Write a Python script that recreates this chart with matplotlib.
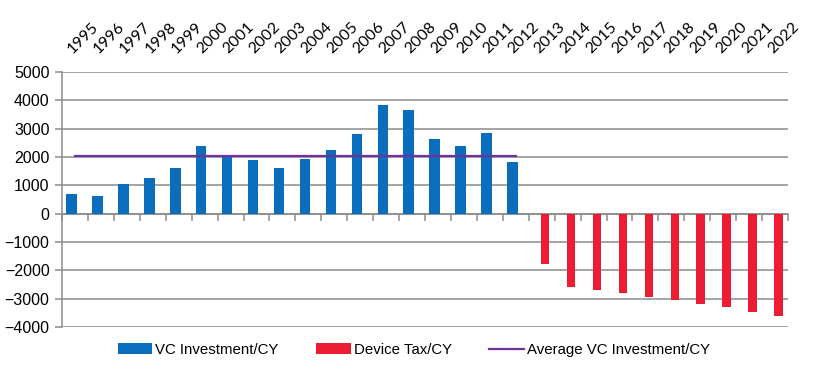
import numpy as np
import matplotlib
matplotlib.use('Agg')
import matplotlib.pyplot as plt


years = list(range(1995, 2023))
vc_years = list(range(1995, 2013))
vc_investment = [680, 610, 1040, 1250, 1600, 2380, 2050, 1890, 1600, 1920,
                 2240, 2810, 3830, 3660, 2630, 2380, 2830, 1840]
tax_years = list(range(2013, 2023))
device_tax = [-1770, -2600, -2700, -2790, -2930, -3050, -3180, -3310, -3470, -3610]
avg_vc = [2050] * len(vc_years)

BLUE = '#0a6ebd'
RED = '#ec1c33'
PURPLE = '#7030a0'
GRID = '#8c8c8c'

plt.rcParams['font.family'] = ['Liberation Sans', 'DejaVu Sans']

fig = plt.figure(figsize=(8.28, 3.75), dpi=100)
ax = fig.add_axes([0.0749, 0.128, 0.8768, 0.680])

pos = {y: i for i, y in enumerate(years)}
vc_x = np.array([pos[y] for y in vc_years])
tax_x = np.array([pos[y] for y in tax_years])

b1 = ax.bar(vc_x - 0.13, vc_investment, width=0.4, color=BLUE,
            label='VC Investment/CY', zorder=3)
b2 = ax.bar(tax_x + 0.13, device_tax, width=0.32, color=RED,
            label='Device Tax/CY', zorder=3)
l1, = ax.plot(vc_x, avg_vc, color=PURPLE, linewidth=1.6,
              label='Average VC Investment/CY', zorder=4)

ax.set_xlim(-0.5, len(years) - 0.5)
ax.set_ylim(-4000, 5000)
ax.set_yticks(range(-4000, 5001, 1000))
ax.yaxis.grid(True, color=GRID, linewidth=1.1, zorder=0)
ax.set_axisbelow(True)

for side in ('top', 'right'):
    ax.spines[side].set_visible(False)
ax.spines['left'].set_color(GRID)
ax.spines['left'].set_linewidth(1.1)
ax.spines['bottom'].set_position(('data', 0))
ax.spines['bottom'].set_color(GRID)
ax.spines['bottom'].set_linewidth(1.1)

# year labels on top, category boundary ticks on the zero line
ax.set_xticks(range(len(years)))
ax.set_xticks(np.arange(-0.5, len(years)), minor=True)
ax.tick_params(axis='x', which='major', bottom=False, top=False,
               labelbottom=False, labeltop=True, pad=8)
ax.tick_params(axis='x', which='minor', bottom=True, top=False,
               length=5, width=1.1, color=GRID, direction='out')
ax.set_xticklabels([str(y) for y in years], rotation=45,
                   ha='left', va='bottom', rotation_mode='anchor',
                   fontsize=11.5, family=['Lato', 'DejaVu Sans'])
ax.tick_params(axis='y', length=5, width=1.1, color=GRID, labelsize=11.5, pad=4)

fig.legend([b1, b2, l1], ['VC Investment/CY', 'Device Tax/CY',
                          'Average VC Investment/CY'],
           loc='center', bbox_to_anchor=(0.5, 0.067), ncol=3, frameon=False,
           fontsize=10.8, handlelength=2.3, handletextpad=0.2,
           columnspacing=2.5)

fig.savefig('out.png', dpi=100)
